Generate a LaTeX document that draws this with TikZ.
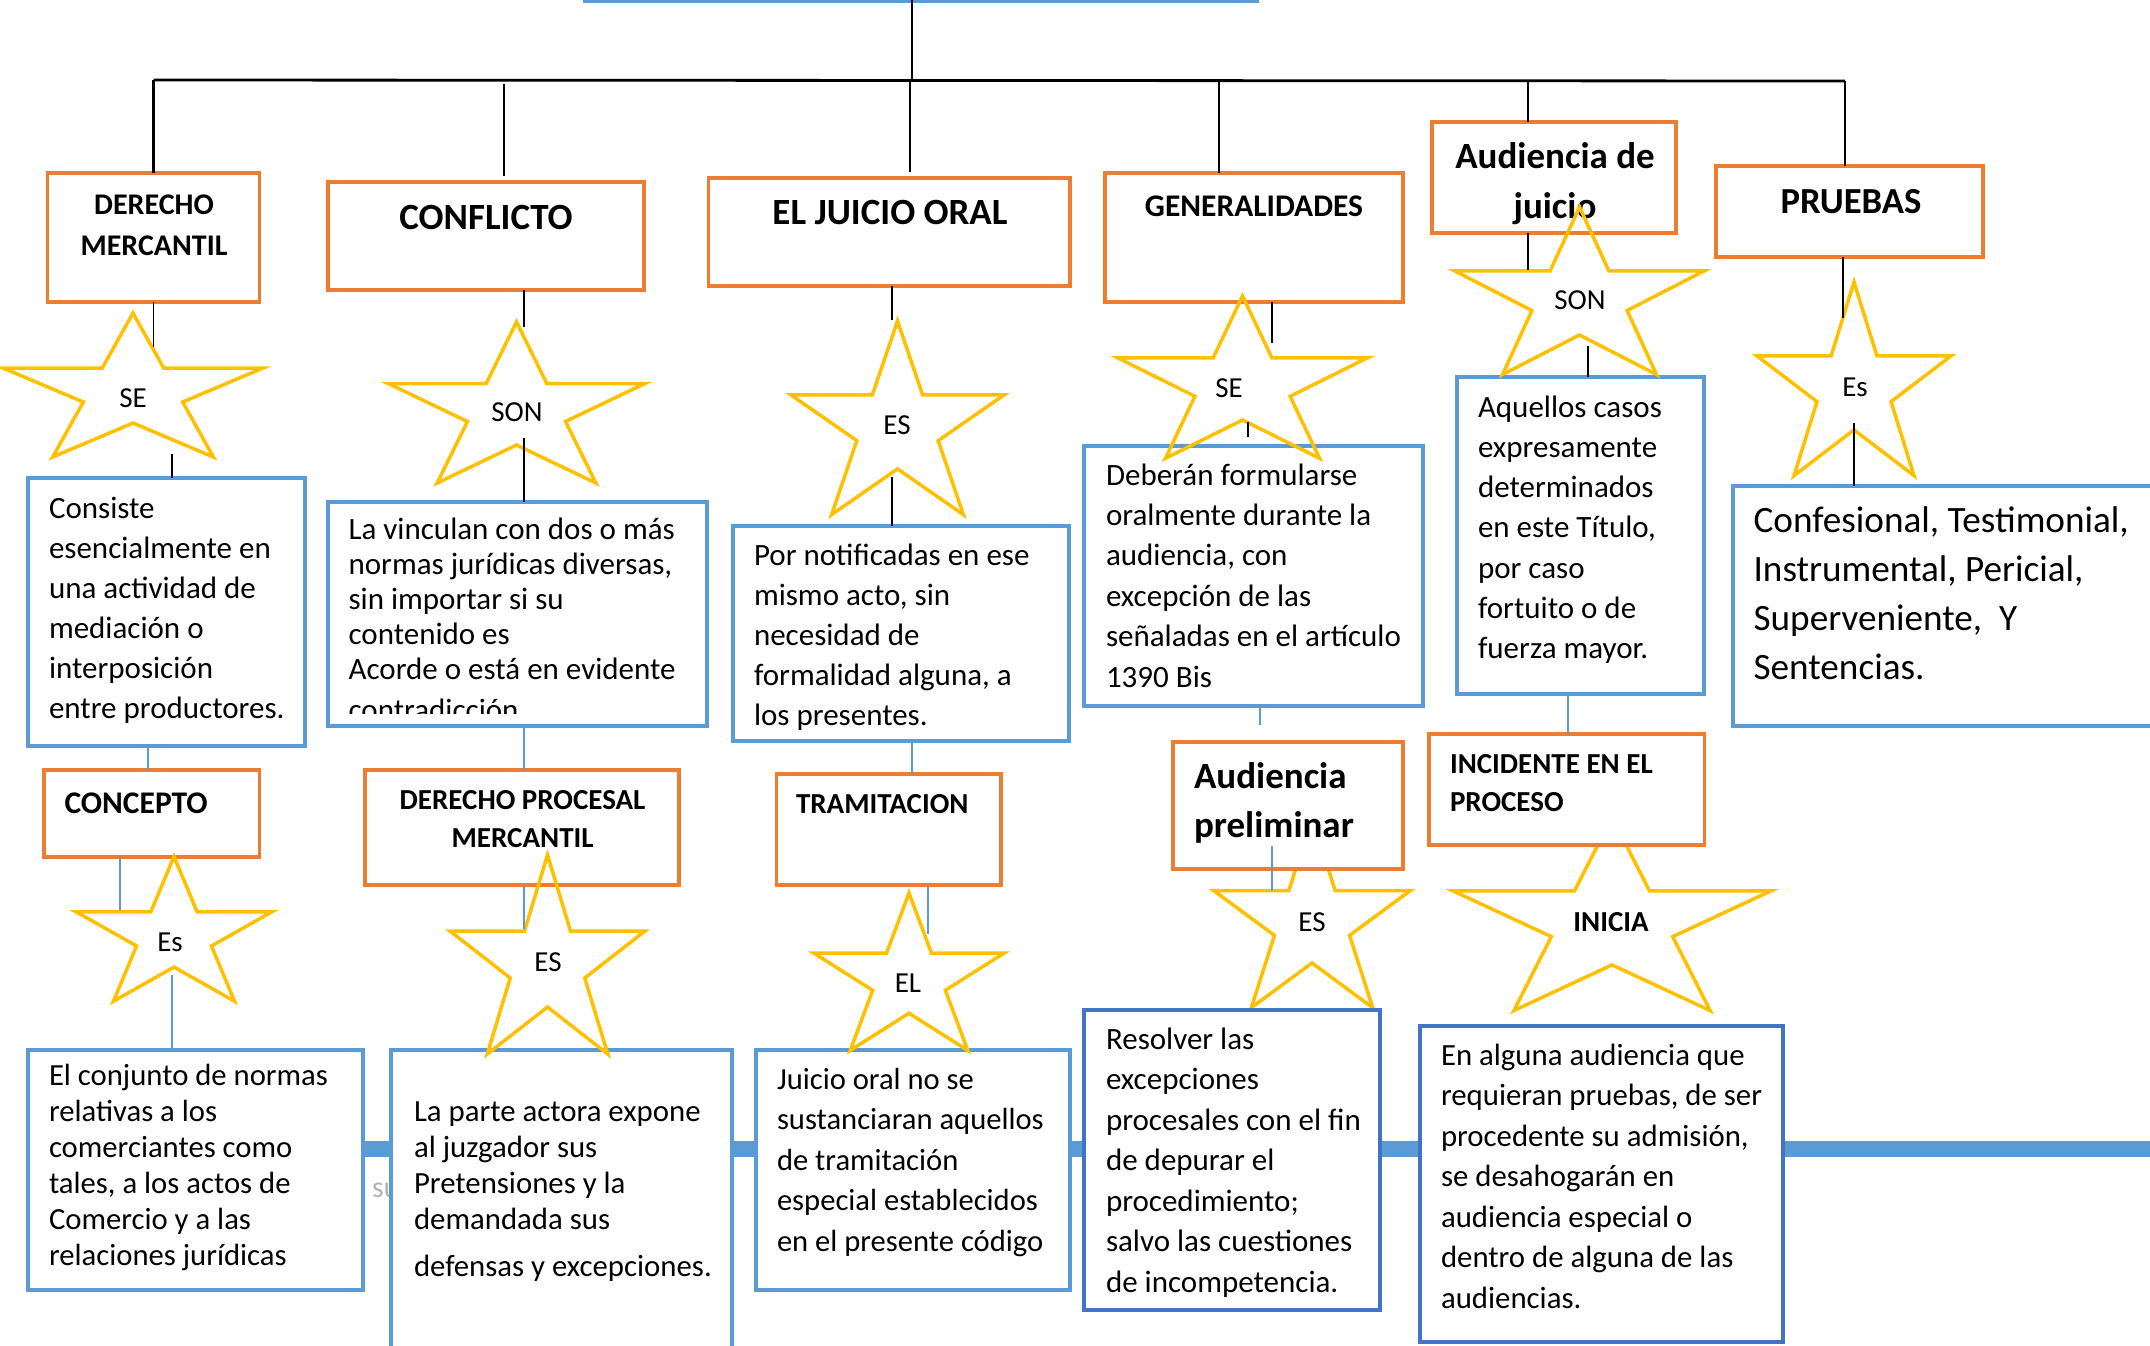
\documentclass[tikz,border=0pt]{standalone}
\usepackage{fontspec}
\setmainfont{Carlito}
\usetikzlibrary{calc}
\definecolor{orng}{HTML}{ED7D31}
\definecolor{blu}{HTML}{5B9BD5}
\definecolor{dblu}{HTML}{4472C4}
\definecolor{gold}{HTML}{FFC000}
\newcommand\stt{\rule{0pt}{36pt}}
\newcommand\fs[2]{\fontsize{#1}{#2}\selectfont}
\newcommand\drawstar[4]{%
 \begin{scope}[shift={(#1,#2)}]
  \pgfmathsetmacro\sa{#3}\pgfmathsetmacro\sb{#4}%
  \pgfmathsetmacro\ia{0.382*#3}\pgfmathsetmacro\ib{0.382*#4}%
  \draw[starline] (90:\sa pt and \sb pt) -- (126:\ia pt and \ib pt) -- (162:\sa pt and \sb pt) -- (198:\ia pt and \ib pt) -- (234:\sa pt and \sb pt) -- (270:\ia pt and \ib pt) -- (306:\sa pt and \sb pt) -- (342:\ia pt and \ib pt) -- (18:\sa pt and \sb pt) -- (54:\ia pt and \ib pt) -- cycle;
 \end{scope}}
\newcommand\bx[6]{\node[#1,anchor=north west,minimum width={#5-#3},minimum height={#6-#4}] (#2) at (#3,#4) {};}
\tikzset{
 obox/.style={draw=orng, line width=3.5pt, fill=white, outer sep=0pt, inner sep=0pt},
 bbox/.style={draw=blu, line width=3.5pt, fill=white, outer sep=0pt, inner sep=0pt},
 dbox/.style={bbox, draw=dblu},
 starline/.style={draw=gold, line width=3.5pt, line join=miter},
 trunk/.style={draw=black, line width=2.8pt},
 conn/.style={draw=black, line width=1.6pt},
 bconn/.style={draw=blu, line width=1.6pt},
 txt/.style={inner sep=0pt, outer sep=0pt, anchor=north west, align=left},
 ttl/.style={inner sep=0pt, outer sep=0pt, anchor=north, align=center},
 one/.style={inner sep=0pt, outer sep=0pt},
}
\begin{document}
\begin{tikzpicture}[x=1pt,y=-1pt]
\useasboundingbox (0,0) rectangle (2150,1345);
\clip (0,0) rectangle (2150,1345);
% top line and band
\coordinate (tl) at (583,1); \coordinate (tr) at (1259,1);
\draw[blu, line width=3pt] (tl) -- (tr);
\coordinate (bandl) at (300,1149); \coordinate (bandr) at (2170,1149);
\draw[blu, line width=16pt] (bandl) -- (bandr);
\node[one, anchor=base west, text=gray!60, font={\fs{30}{36}}] (su) at (372,1197) {su};
% stars behind boxes
\drawstar{1312}{923}{103.3}{104.7}
\drawstar{1612}{924}{167}{107}
% orange boxes
\bx{obox}{dm}{47.7}{173}{259.6}{302}
\bx{obox}{conf}{328}{182}{644}{290}
\bx{obox}{jo}{708.5}{178}{1070}{286}
\bx{obox}{gen}{1105}{173}{1403}{302}
\bx{obox}{aud}{1432}{122}{1676}{233}
\bx{obox}{pru}{1716}{166}{1983}{257}
\bx{obox}{concepto}{44}{770}{259.6}{857}
\bx{obox}{dpm}{365}{770}{679}{885}
\bx{obox}{tram}{776.6}{774}{1001}{885}
\bx{obox}{prel}{1173}{742}{1403}{869}
\bx{obox}{inc}{1429}{734}{1704.5}{845}
% blue boxes
\bx{bbox}{cons}{28}{478}{305}{746}
\bx{bbox}{vinc}{328}{502}{707}{726}
\bx{bbox}{por}{733}{526}{1069}{741}
\bx{bbox}{deb}{1084}{446}{1423}{706}
\bx{bbox}{aquel}{1457}{377}{1704}{694}
\bx{bbox}{confe}{1733}{486}{2200}{726}
\bx{bbox}{conj}{28}{1050}{363}{1290}
\bx{bbox}{parte}{391}{1050}{732}{1400}
\bx{bbox}{jor}{756}{1050}{1070}{1290}
\bx{dbox}{resol}{1084}{1010}{1380}{1310}
\bx{dbox}{alg}{1420}{1026}{1783}{1342}
% titles
\node[ttl, font={\bfseries\fs{30}{41}}] (t1) at (154,178) {\stt DERECHO\\MERCANTIL};
\node[one, anchor=base, font={\bfseries\fs{37}{44}}] (t2) at (486,229) {CONFLICTO};
\node[one, anchor=base, font={\bfseries\fs{37}{44}}] (t3) at (890,224) {EL JUICIO ORAL};
\node[one, anchor=base, font={\bfseries\fs{31.5}{38}}] (t4) at (1254,216) {GENERALIDADES};
\node[ttl, font={\bfseries\fs{37}{50}}] (t5) at (1555,132) {\stt Audiencia de\\juicio};
\node[one, anchor=base, font={\bfseries\fs{36.7}{44}}] (t6) at (1851,213) {PRUEBAS};
\node[one, anchor=base west, font={\bfseries\fs{31.5}{38}}] (t7) at (64.5,813) {CONCEPTO};
\node[ttl, font={\bfseries\fs{29}{38}}] (t8) at (522.6,773) {\stt DERECHO PROCESAL\\MERCANTIL};
\node[one, anchor=base west, font={\bfseries\fs{29}{38}}] (t9) at (796,813) {TRAMITACION};
\node[txt, font={\bfseries\fs{37}{49}}] (t10) at (1194,752) {\stt Audiencia\\preliminar};
\node[txt, font={\bfseries\fs{29}{38}}] (t11) at (1450,737) {\stt INCIDENTE EN EL\\PROCESO};
% descriptions
\node[txt, font={\fs{31}{40}}] (t12) at (49,482) {\stt Consiste\\esencialmente en\\una actividad de\\mediación o\\interposición\\entre productores.};
\begin{scope}
\clip (328,502) rectangle (707,713);
\node[txt, font={\fs{31}{35}}] (t13) at (348.6,503) {\stt La vinculan con dos o más\\normas jurídicas diversas,\\sin importar si su\\contenido es\\Acorde o está en evidente\\[6pt]contradicción};
\end{scope}
\node[txt, font={\fs{31}{40.2}}] (t14) at (754,529) {\stt Por notificadas en ese\\mismo acto, sin\\necesidad de\\formalidad alguna, a\\los presentes.};
\node[txt, font={\fs{31}{40.4}}] (t15) at (1106,449) {\stt Deberán formularse\\oralmente durante la\\audiencia, con\\excepción de las\\señaladas en el artículo\\1390 Bis};
\node[txt, font={\fs{31}{40.3}}] (t16) at (1478,381) {\stt Aquellos casos\\expresamente\\determinados\\en este Título,\\por caso\\fortuito o de\\fuerza mayor.};
\node[txt, font={\fs{37.2}{49}}] (t17) at (1753.6,496) {\stt Confesional, Testimonial,\\Instrumental, Pericial,\\Superveniente,\ \ Y\\Sentencias.};
\node[txt, font={\fs{30.7}{36}}] (t18) at (49,1049) {\stt El conjunto de normas\\relativas a los\\comerciantes como\\tales, a los actos de\\Comercio y a las\\relaciones jurídicas};
\node[txt, font={\fs{30.8}{36}}] (t19) at (414,1085) {\stt La parte actora expone\\al juzgador sus\\Pretensiones y la\\demandada sus\\[11pt]defensas y excepciones.};
\node[txt, font={\fs{30.6}{40.5}}] (t20) at (777,1053) {\stt Juicio oral no se\\sustanciaran aquellos\\de tramitación\\especial establecidos\\en el presente código};
\node[txt, font={\fs{31}{40.5}}] (t21) at (1106,1013) {\stt Resolver las\\excepciones\\procesales con el fin\\de depurar el\\procedimiento;\\salvo las cuestiones\\de incompetencia.};
\node[txt, font={\fs{30.8}{40.5}}] (t22) at (1441,1029) {\stt En alguna audiencia que\\requieran pruebas, de ser\\procedente su admisión,\\se desahogarán en\\audiencia especial o\\dentro de alguna de las\\audiencias.};
% stars in front
\drawstar{133}{392.6}{136.7}{79.6}
\drawstar{516.5}{411}{135}{89}
\drawstar{897.5}{428}{112}{107}
\drawstar{1242.5}{385.7}{131}{89.7}
\drawstar{1579.5}{299.6}{131}{92.6}
\drawstar{1854}{389}{102}{107}
\drawstar{174}{936.5}{103}{80}
\drawstar{547.5}{965}{102.5}{110}
\drawstar{909}{980}{100}{87}
% star labels
\node[one, font={\fs{29}{34}}] (s1) at (133,398) {SE};
\node[one, font={\fs{29}{34}}] (s2) at (517,412) {SON};
\node[one, font={\fs{29}{34}}] (s3) at (897,425) {ES};
\node[one, font={\fs{29}{34}}] (s4) at (1229,388) {SE};
\node[one, font={\fs{29}{34}}] (s5) at (1580,300) {SON};
\node[one, font={\fs{29}{34}}] (s6) at (1855,387) {Es};
\node[one, font={\fs{29}{34}}] (s7) at (170,942) {Es};
\node[one, font={\fs{29}{34}}] (s8) at (548,962) {ES};
\node[one, font={\fs{29}{34}}] (s9) at (908,983) {EL};
\node[one, font={\fs{29}{34}}] (s10) at (1312,922) {ES};
\node[one, font={\bfseries\fs{29}{34}}] (s11) at (1611,922) {INICIA};
% trunk connectors
\coordinate (topc) at (912,0); \coordinate (busm) at (912,80);
\coordinate (busl) at (153.65,80); \coordinate (busr) at (1845,81);
\draw[trunk] (topc) -- (busm);
\draw[trunk] (busl) -- (busr);
\draw[trunk] (busl) -- (dm.north);
\draw[trunk, shorten <=4pt, shorten >=6pt] (504,80) -- (504,0 |- conf.north);
\draw[trunk, shorten >=6pt] (910,80) -- (910,0 |- jo.north);
\draw[trunk] (1219,80) -- (1219,0 |- gen.north);
\draw[trunk] (1528,81) -- (1528,0 |- aud.north);
\draw[trunk] (busr) -- (busr |- pru.north);
% thin black
\draw[conn] (dm.south) -- ++(0,45);
\draw[conn] (172,454) -- (172,0 |- cons.north);
\draw[conn] (524,0 |- conf.south) -- (524,327);
\draw[conn] (524,438) -- (524,0 |- vinc.north);
\draw[conn] (892,0 |- jo.south) -- (892,320);
\draw[conn] (892,477) -- (892,0 |- por.north);
\draw[conn] (1272,0 |- gen.south) -- (1272,343);
\draw[conn] (1248,422) -- (1248,437);
\draw[conn] (1528,0 |- aud.south) -- (1528,270);
\draw[conn] (1588,346) -- (1588,0 |- aquel.north);
\draw[conn] (1843,0 |- pru.south) -- (1843,318);
\draw[conn] (1854,423) -- (1854,0 |- confe.north);
% thin blue
\draw[bconn] (148,0 |- cons.south) -- (148,0 |- concepto.north);
\draw[bconn] (524,0 |- vinc.south) -- (524,0 |- dpm.north);
\draw[bconn] (912,0 |- por.south) -- (912,0 |- tram.north);
\draw[bconn] (1260,0 |- deb.south) -- (1260,725);
\draw[bconn] (1568,0 |- aquel.south) -- (1568,0 |- inc.north);
\draw[bconn] (120,0 |- concepto.south) -- (120,910);
\draw[bconn] (172,975) -- (172,0 |- conj.north);
\draw[bconn] (524,0 |- dpm.south) -- (524,929);
\draw[bconn] (928,0 |- tram.south) -- (928,934);
\draw[bconn] (1272,846) -- (1272,891);
\end{tikzpicture}
\end{document}
